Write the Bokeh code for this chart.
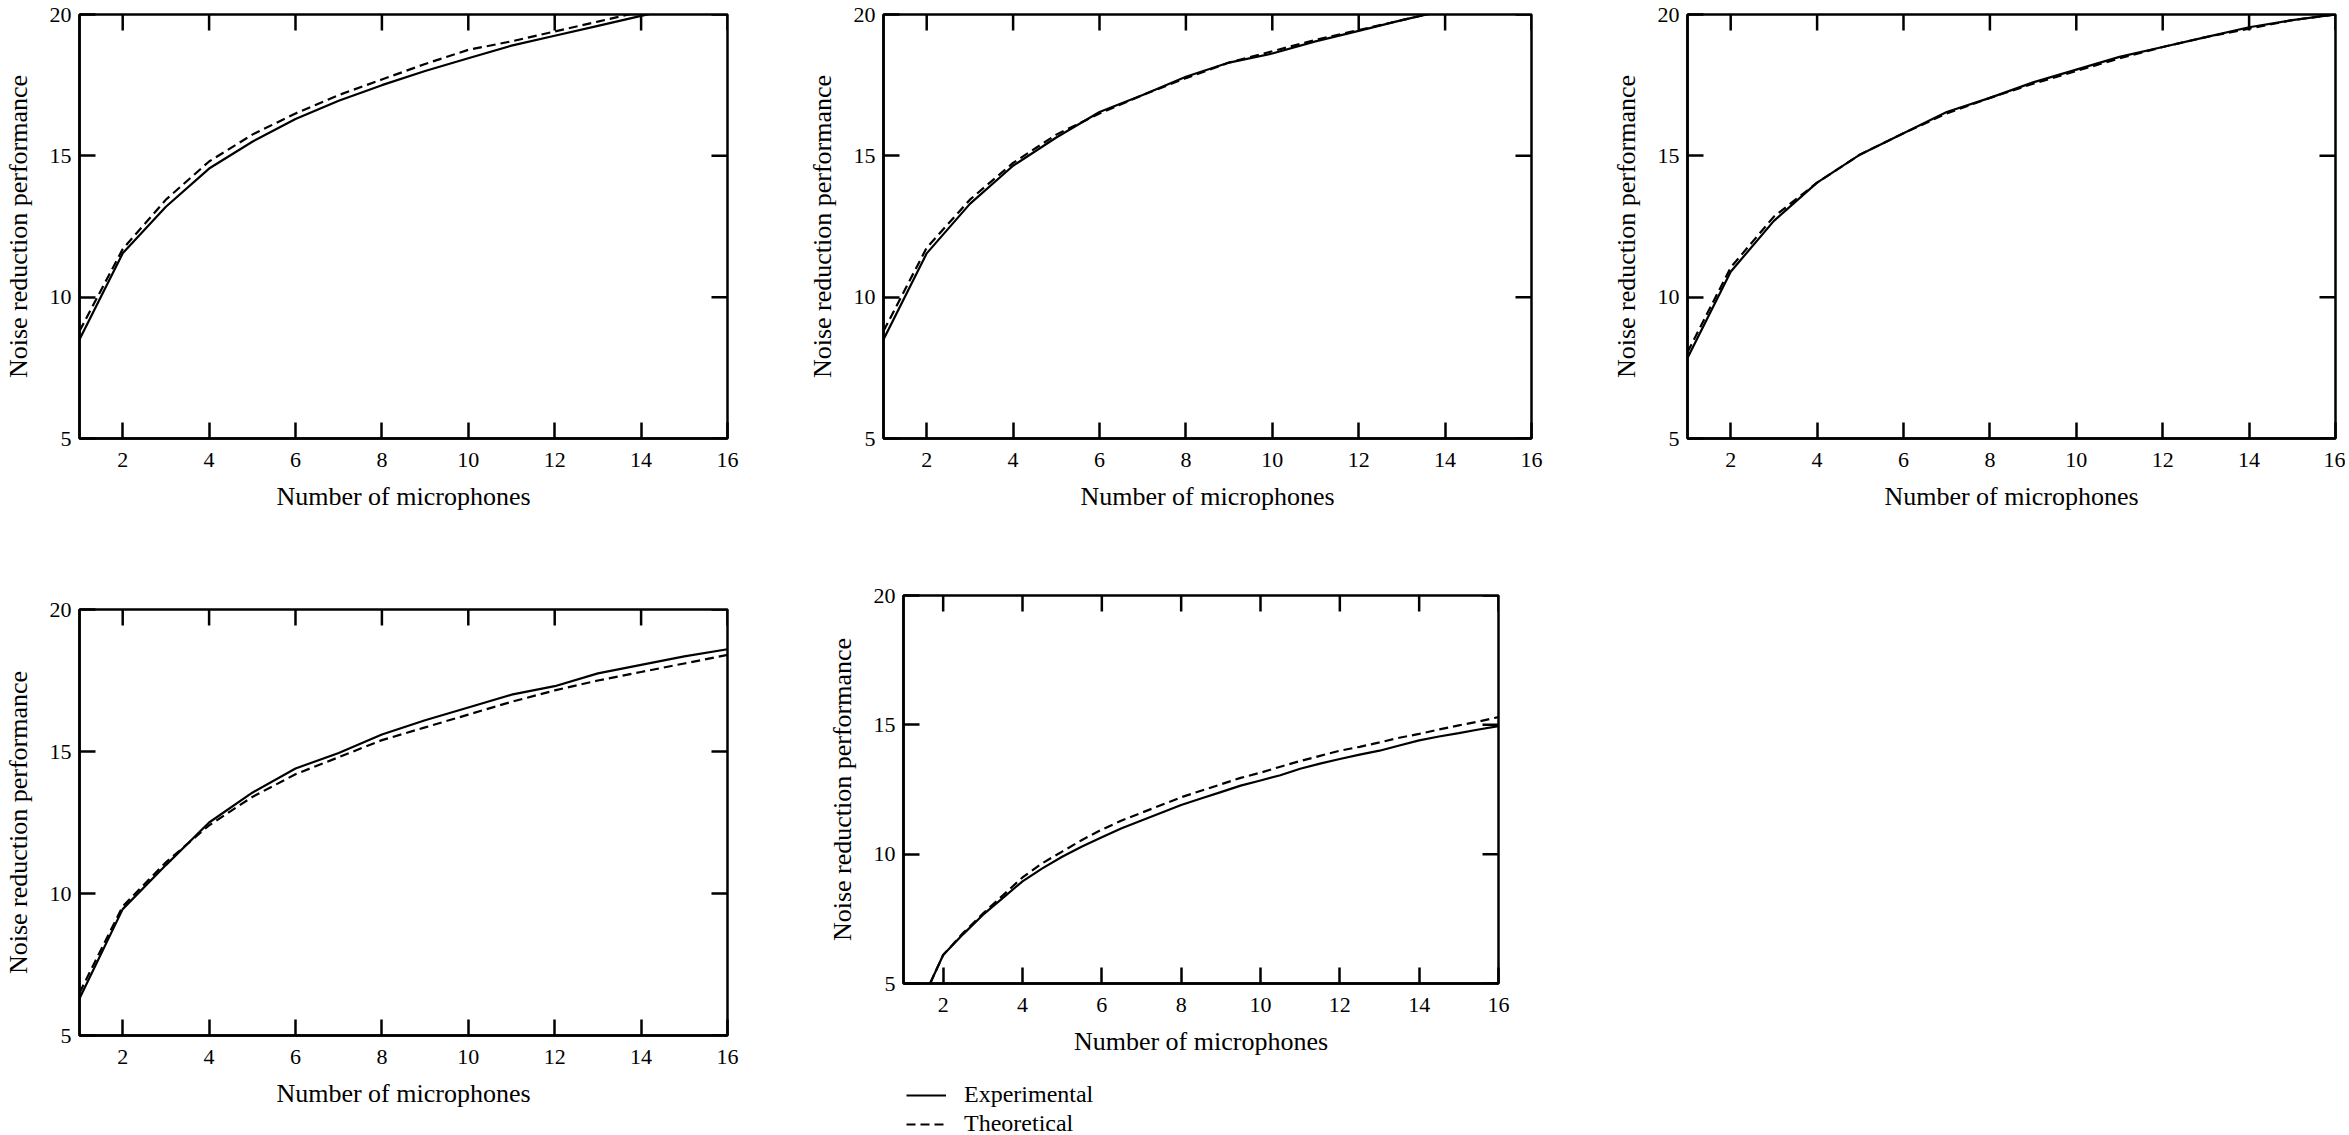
from bokeh.plotting import figure
from bokeh.models import FixedTicker, Legend, LegendItem, Range1d, Spacer
from bokeh.layouts import column, row
from bokeh.embed import file_html
from bokeh.resources import INLINE

# ---------------- data ----------------
x_int = [1, 2, 3, 4, 5, 6, 7, 8, 9, 10, 11, 12, 13, 14, 15, 16]

exp_a = [8.5, 11.55, 13.2, 14.55, 15.5, 16.3, 16.95, 17.5, 18.0, 18.45, 18.9, 19.25, 19.6, 19.95, 20.3, 20.6]
theo_a = [8.8, 11.7, 13.45, 14.8, 15.75, 16.5, 17.15, 17.7, 18.25, 18.75, 19.05, 19.4, 19.75, 20.1, 20.4, 20.7]

exp_b = [8.5, 11.55, 13.3, 14.65, 15.65, 16.55, 17.15, 17.8, 18.3, 18.62, 19.05, 19.42, 19.8, 20.15, 20.5, 20.8]
theo_b = [8.8, 11.75, 13.45, 14.75, 15.75, 16.5, 17.15, 17.75, 18.3, 18.7, 19.1, 19.45, 19.8, 20.15, 20.5, 20.8]

exp_c = [7.85, 10.9, 12.7, 14.05, 15.05, 15.8, 16.55, 17.05, 17.6, 18.05, 18.5, 18.85, 19.2, 19.55, 19.8, 20.0]
theo_c = [8.05, 11.05, 12.85, 14.05, 15.05, 15.8, 16.5, 17.05, 17.55, 18.0, 18.45, 18.85, 19.2, 19.5, 19.8, 20.0]

exp_d = [6.3, 9.45, 11.0, 12.5, 13.55, 14.4, 14.95, 15.6, 16.1, 16.55, 17.0, 17.3, 17.75, 18.05, 18.35, 18.6]
theo_d = [6.5, 9.55, 11.1, 12.4, 13.4, 14.2, 14.8, 15.4, 15.85, 16.3, 16.75, 17.15, 17.5, 17.8, 18.1, 18.4]

x_e = [1.67, 2, 2.5, 3, 3.5, 4, 4.5, 5, 5.5, 6, 6.5, 7, 7.5, 8, 8.5, 9, 9.5, 10,
       10.5, 11, 11.5, 12, 12.5, 13, 13.5, 14, 14.5, 15, 15.5, 16]
exp_e = [5.0, 6.1, 6.9, 7.65, 8.3, 8.95, 9.45, 9.9, 10.3, 10.65, 11.0, 11.3, 11.6, 11.9, 12.15,
         12.4, 12.65, 12.85, 13.05, 13.3, 13.5, 13.68, 13.85, 14.0, 14.2, 14.4, 14.55, 14.68, 14.82, 14.95]
theo_e = [5.0, 6.1, 6.95, 7.7, 8.4, 9.1, 9.65, 10.1, 10.55, 10.95, 11.3, 11.6, 11.9, 12.2, 12.45,
          12.7, 12.95, 13.15, 13.38, 13.6, 13.8, 14.0, 14.15, 14.32, 14.5, 14.65, 14.82, 14.98, 15.13, 15.3]

x_ticks = [2, 4, 6, 8, 10, 12, 14, 16]
y_ticks = [5, 10, 15, 20]
x_range = (1, 16)
y_range = (5, 20)
x_title = "Number of microphones"
y_title = "Noise reduction performance"
legend_labels = ["Experimental", "Theoretical"]

FONT = "Liberation Serif"
TICK_FS = "22px"
TITLE_FS = "26px"
DASH = "9 5"
TICK_LEN = 16
LW = 2.5


def make_panel(x, e, t, fw, fh, bl, br, bt, bb):
    p = figure(frame_width=fw, frame_height=fh,
               x_range=Range1d(*x_range), y_range=Range1d(*y_range),
               output_backend="svg", toolbar_location=None,
               min_border_left=bl, min_border_right=br, min_border_top=bt, min_border_bottom=bb)
    p.xgrid.visible = False
    p.ygrid.visible = False
    p.outline_line_color = "black"
    p.outline_line_width = LW
    p.background_fill_color = "white"
    p.border_fill_color = "white"

    for ax in p.xaxis:
        ax.ticker = FixedTicker(ticks=x_ticks)
        ax.axis_label = x_title
        ax.major_label_standoff = 14
        ax.axis_label_standoff = 12
    for ax in p.yaxis:
        ax.ticker = FixedTicker(ticks=y_ticks)
        ax.axis_label = y_title
        ax.major_label_standoff = 8
        ax.axis_label_standoff = 14
    for ax in list(p.xaxis) + list(p.yaxis):
        ax.major_tick_in = TICK_LEN
        ax.major_tick_out = 0
        ax.minor_tick_in = 0
        ax.minor_tick_out = 0
        ax.major_tick_line_width = LW
        ax.axis_line_width = LW
        ax.major_label_text_font = FONT
        ax.major_label_text_font_size = TICK_FS
        ax.major_label_text_color = "black"
        ax.axis_label_text_font = FONT
        ax.axis_label_text_font_size = TITLE_FS
        ax.axis_label_text_font_style = "normal"
        ax.axis_label_text_color = "black"

    # mirrored inward ticks on the top and right frame edges (same tick arrays, TICK_LEN px long)
    dy = TICK_LEN * (y_range[1] - y_range[0]) / fh
    dx = TICK_LEN * (x_range[1] - x_range[0]) / fw
    p.segment(x0=x_ticks, y0=[y_range[1]] * len(x_ticks),
              x1=x_ticks, y1=[y_range[1] - dy] * len(x_ticks),
              line_color="black", line_width=LW)
    p.segment(x0=[x_range[1]] * len(y_ticks), y0=y_ticks,
              x1=[x_range[1] - dx] * len(y_ticks), y1=y_ticks,
              line_color="black", line_width=LW)

    r1 = p.line(x, e, line_color="black", line_width=2.2)
    r2 = p.line(x, t, line_color="black", line_width=2.2, line_dash=DASH)
    return p, r1, r2


p1, _, _ = make_panel(x_int, exp_a, theo_a, 648, 424, 75, 77, 14, 94)
p2, _, _ = make_panel(x_int, exp_b, theo_b, 648, 424, 75, 77, 14, 94)
p3, _, _ = make_panel(x_int, exp_c, theo_c, 648, 424, 75, 10, 14, 94)
p4, _, _ = make_panel(x_int, exp_d, theo_d, 648, 426, 75, 86, 63, 60)
p5, _, _ = make_panel(x_e, exp_e, theo_e, 595, 388, 90, 20, 63, 89)

# legend below the fifth panel, in its own small figure (its lines lie outside its range)
lf = figure(frame_width=320, frame_height=66, x_range=Range1d(0, 1), y_range=Range1d(0, 1),
            x_axis_type=None, y_axis_type=None, output_backend="svg", toolbar_location=None,
            min_border_left=90, min_border_right=0, min_border_top=0, min_border_bottom=0)
lf.outline_line_color = None
lf.background_fill_color = "white"
lf.border_fill_color = "white"
le = lf.line(x=[5, 6], y=[5, 6], line_color="black", line_width=2.2)
lt = lf.line(x=[5, 6], y=[5, 6], line_color="black", line_width=2.2, line_dash=DASH)
legend = Legend(items=[LegendItem(label=legend_labels[0], renderers=[le]),
                       LegendItem(label=legend_labels[1], renderers=[lt])],
                location=(3, 1), orientation="vertical",
                label_text_font=FONT, label_text_font_size="24px", label_text_color="black",
                glyph_width=40, glyph_height=24, label_standoff=18, spacing=2,
                padding=0, margin=0, border_line_color=None, background_fill_alpha=0)
lf.add_layout(legend)

layout = column(row(p1, p2, p3),
                row(column(Spacer(height=14), p4), column(p5, lf)))

with open("out.html", "w") as f:
    f.write(file_html(layout, INLINE))
